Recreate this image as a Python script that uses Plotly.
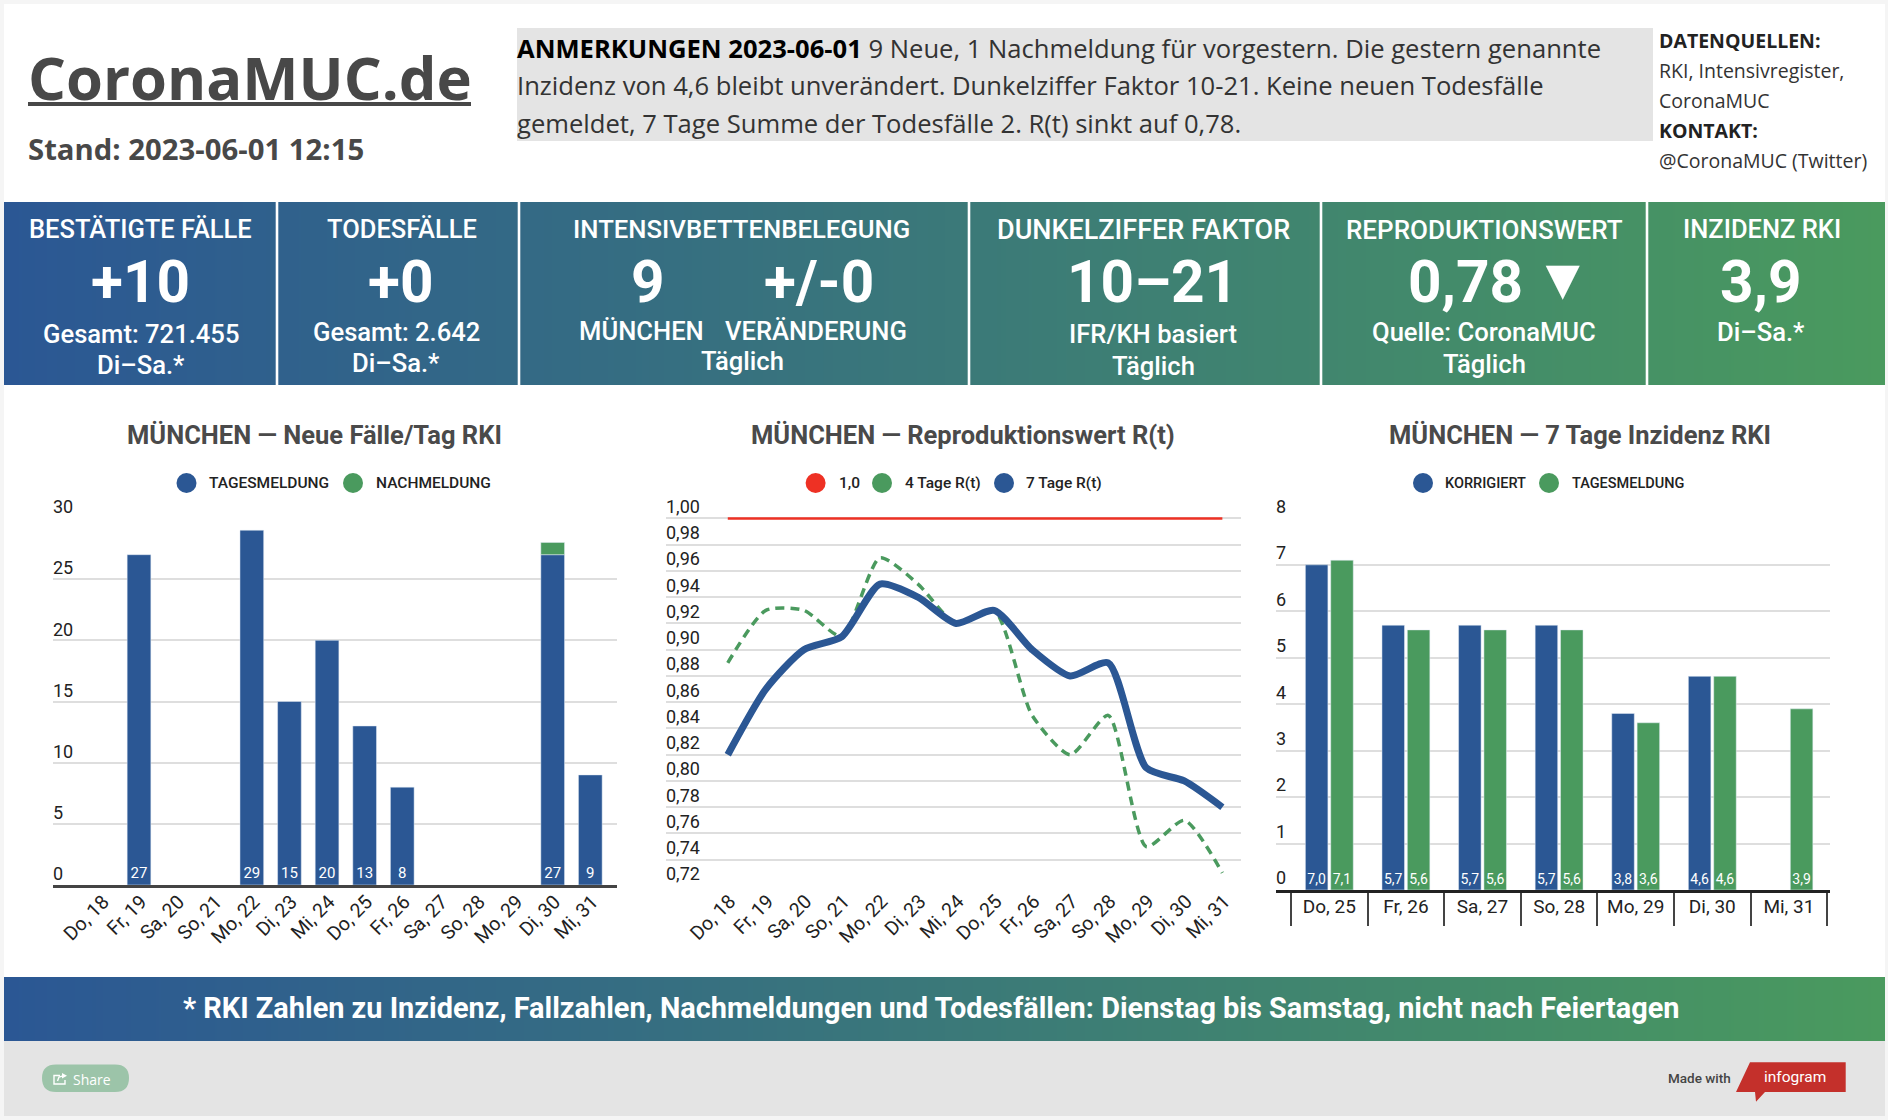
import plotly.graph_objects as go

# ---------------- data ----------------
days14 = ["Do, 18", "Fr, 19", "Sa, 20", "So, 21", "Mo, 22", "Di, 23", "Mi, 24",
          "Do, 25", "Fr, 26", "Sa, 27", "So, 28", "Mo, 29", "Di, 30", "Mi, 31"]
tagesmeldung = [None, 27, None, None, 29, 15, 20, 13, 8, None, None, None, 27, 9]
nachmeldung = [None, None, None, None, None, None, None, None, None, None, None, None, 1, None]
rt_one = [1.0] * 14
rt_4 = [0.89, 0.93, 0.93, 0.91, 0.97, 0.95, 0.92, 0.93, 0.85, 0.82, 0.85, 0.75, 0.77, 0.73]
rt_7 = [0.82, 0.87, 0.90, 0.91, 0.95, 0.94, 0.92, 0.93, 0.90, 0.88, 0.89, 0.81, 0.80, 0.78]
days7 = ["Do, 25", "Fr, 26", "Sa, 27", "So, 28", "Mo, 29", "Di, 30", "Mi, 31"]
inz_korr = [7.0, 5.7, 5.7, 5.7, 3.8, 4.6, None]
inz_tag = [7.1, 5.6, 5.6, 5.6, 3.6, 4.6, 3.9]
y1_ticks = [0, 5, 10, 15, 20, 25, 30]
y2_ticks = [0.72, 0.74, 0.76, 0.78, 0.80, 0.82, 0.84, 0.86, 0.88, 0.90, 0.92, 0.94, 0.96, 0.98, 1.00]
y3_ticks = [0, 1, 2, 3, 4, 5, 6, 7, 8]

# ---------------- helpers ----------------
W, H = 1888, 1120
BLUE, GREEN, RED = "#2b5794", "#4a9a5e", "#ee3124"
GRID = "#dedede"
ROBOTO = "Roboto"
OPEN = "Open Sans"
def px(x): return x / W
def py(y): return 1 - y / H

ann, shp = [], []
def T(text, x, y, size, color="#ffffff", family=ROBOTO, weight=None, anchor="center"):
    f = dict(size=size, color=color, family=family)
    if weight: f["weight"] = weight
    ann.append(dict(text=text, x=px(x), y=py(y), xref="paper", yref="paper", showarrow=False,
                    xanchor=anchor, yanchor="middle", font=f, align=anchor, borderpad=0))
def R(x0, y0, x1, y1, color, layer="below"):
    shp.append(dict(type="rect", xref="paper", yref="paper", x0=px(x0), x1=px(x1), y0=py(y0), y1=py(y1),
                    fillcolor=color, line=dict(width=0), layer=layer))
def C(cx, cy, d, color):
    shp.append(dict(type="circle", xref="paper", yref="paper", x0=px(cx - d/2), x1=px(cx + d/2),
                    y0=py(cy + d/2), y1=py(cy - d/2), fillcolor=color, line=dict(width=0), layer="above"))
def P(points, fill=None, stroke=None, width=0, closed=True):
    path = "M" + " L".join(f"{px(a)},{py(b)}" for a, b in points) + (" Z" if closed else "")
    shp.append(dict(type="path", xref="paper", yref="paper", layer="above", path=path,
                    fillcolor=fill if fill else "rgba(0,0,0,0)",
                    line=dict(width=width, color=stroke) if stroke else dict(width=0)))

fig = go.Figure()

# ---------------- page furniture ----------------
R(4, 4, 1885, 1041, "#ffffff")
R(4, 1041, 1885, 1116, "#e4e4e4")
R(517, 28, 1653, 141, "#e4e4e4")

T("CoronaMUC.de", 26.5, 77, 59.7, "#484848", OPEN, 700, "left")
R(28, 102, 471, 106, "#484848")
T("Stand: 2023-06-01 12:15", 26.5, 149, 29.3, "#484848", OPEN, 700, "left")

LX = 515.5
T('<b><span style="color:#000">ANMERKUNGEN 2023-06-01</span></b> 9 Neue, 1 Nachmeldung für vorgestern. Die gestern genannte',
  LX, 49, 25.6, "#333333", OPEN, None, "left")
T("Inzidenz von 4,6 bleibt unverändert. Dunkelziffer Faktor 10-21. Keine neuen Todesfälle", LX, 85.5, 25.6, "#333333", OPEN, None, "left")
T("gemeldet, 7 Tage Summe der Todesfälle 2. R(t) sinkt auf 0,78.", LX, 123.5, 25.6, "#333333", OPEN, None, "left")

SX = 1657.5
T("DATENQUELLEN:", SX, 40.5, 19.5, "#222222", OPEN, 700, "left")
T("RKI, Intensivregister,", SX, 70.5, 19.5, "#333333", OPEN, None, "left")
T("CoronaMUC", SX, 100.5, 19.5, "#333333", OPEN, None, "left")
T("KONTAKT:", SX, 130.5, 19.5, "#222222", OPEN, 700, "left")
T("@CoronaMUC (Twitter)", SX, 160.5, 19.5, "#333333", OPEN, None, "left")

# stat panels
for x in (277, 519, 969, 1321, 1647):
    R(x - 1.3, 202, x + 1.3, 385, "#ffffff", "above")
PT, PB, PS = 25.5, 25.6, 58.5
for txt, x, y, s, w in [
    ("BESTÄTIGTE FÄLLE", 140, 229, PT, 500), ("+10", 140, 282, PS, 700),
    ("Gesamt: 721.455", 141, 334, PB, 500), ("Di–Sa.*", 141, 365, PB, 500),
    ("TODESFÄLLE", 402, 229, PT, 500), ("+0", 400, 282, PS, 700),
    ("Gesamt: 2.642", 396, 332, PB, 500), ("Di–Sa.*", 396, 363, PB, 500),
    ("INTENSIVBETTENBELEGUNG", 741.5, 229, 25.7, 500), ("9", 647.5, 282, PS, 700),
    ("+/-0", 819, 282, PS, 700), ("MÜNCHEN", 641, 331, PB, 500),
    ("VERÄNDERUNG", 815.5, 331, PB, 500), ("Täglich", 742, 361, PB, 500),
    ("DUNKELZIFFER FAKTOR", 1143, 230, 27, 500), ("10–21", 1152, 282, PS, 700),
    ("IFR/KH basiert", 1153, 334, PB, 500), ("Täglich", 1153, 366, PB, 500),
    ("REPRODUKTIONSWERT", 1484, 230, 26, 500), ("0,78", 1465, 282, PS, 700), ("▼", 1562, 279, 58, None),
    ("Quelle: CoronaMUC", 1484, 332, PB, 500), ("Täglich", 1484, 364, PB, 500),
    ("INZIDENZ RKI", 1762, 229, PT, 500), ("3,9", 1761, 282, PS, 700),
    ("Di–Sa.*", 1761, 332, PB, 500)]:
    T(txt, x, y, s, "#ffffff", ROBOTO, w)

# banner + footer
T("* RKI Zahlen zu Inzidenz, Fallzahlen, Nachmeldungen und Todesfällen: Dienstag bis Samstag, nicht nach Feiertagen",
  931, 1008, 28.9, "#ffffff", ROBOTO, 700)
shp.append(dict(type="path", xref="paper", yref="paper", layer="below", line=dict(width=0), fillcolor="#9cc4a9",
                path=f"M{px(56)},{py(1064.5)} L{px(115)},{py(1064.5)} Q{px(129)},{py(1064.5)} {px(129)},{py(1078)} "
                     f"Q{px(129)},{py(1092)} {px(115)},{py(1092)} L{px(56)},{py(1092)} "
                     f"Q{px(42)},{py(1092)} {px(42)},{py(1078)} Q{px(42)},{py(1064.5)} {px(56)},{py(1064.5)} Z"))
P([(60, 1075.5), (54, 1075.5), (54, 1084), (65, 1084), (65, 1080)], stroke="#ffffff", width=1.4, closed=False)
P([(57.5, 1081), (59, 1077), (63, 1075.8)], stroke="#ffffff", width=1.4, closed=False)
P([(62, 1073), (67, 1075.8), (62, 1078.6)], fill="#ffffff")
T("Share", 91.5, 1079, 14, "#ffffff", OPEN, None)
T("Made with", 1699, 1078, 13.5, "#444444", ROBOTO, 500)
P([(1750, 1062.3), (1845.7, 1062.3), (1845.7, 1092), (1765, 1092), (1756, 1101.7), (1755, 1092), (1736, 1092)], fill="#c4302b")
T("infogram", 1795, 1077, 15.5, "#ffffff", ROBOTO, None)

# gradients: two colour stops interpolated by the heatmap
GRAD = [[0, BLUE], [1, GREEN]]
for i, (z, yy) in enumerate([([[0, 1], [0, 1]], (202, 385)), ([[0, 1], [0, 1]], (977, 1041))]):
    n = 4 + i
    fig.add_trace(go.Heatmap(z=z, x=[0, 1], y=[0, 1], colorscale=GRAD, zmin=0, zmax=1, zsmooth="best",
                             showscale=False, hoverinfo="skip", xaxis=f"x{n}", yaxis=f"y{n}"))
    fig.layout[f"xaxis{n}"] = dict(domain=[px(4), px(1885)], range=[0, 1], visible=False, anchor=f"y{n}", automargin=False)
    fig.layout[f"yaxis{n}"] = dict(domain=[py(yy[1]), py(yy[0])], range=[0, 1], visible=False, anchor=f"x{n}", automargin=False)

# ---------------- chart 1 ----------------
fig.add_trace(go.Bar(x=days14, y=tagesmeldung, name="TAGESMELDUNG", marker_color=BLUE, width=0.63, offset=-0.315,
                     text=[("" if v is None else str(v)) for v in tagesmeldung], textposition="inside",
                     insidetextanchor="start", textangle=0, constraintext="none",
                     insidetextfont=dict(color="#ffffff", size=15, family=ROBOTO),
                     xaxis="x", yaxis="y"))
fig.add_trace(go.Bar(x=days14, y=nachmeldung, base=tagesmeldung, name="NACHMELDUNG", marker_color=GREEN, width=0.63, offset=-0.315,
                     xaxis="x", yaxis="y"))

# ---------------- chart 2 ----------------
fig.add_trace(go.Scatter(x=days14, y=rt_4, name="4 Tage R(t)", mode="lines", xaxis="x2", yaxis="y2",
                         line=dict(color=GREEN, width=3.5, shape="spline", smoothing=0.65, dash="9px,6px")))
fig.add_trace(go.Scatter(x=days14, y=rt_7, name="7 Tage R(t)", mode="lines", xaxis="x2", yaxis="y2",
                         line=dict(color=BLUE, width=7, shape="spline", smoothing=0.65)))
fig.add_trace(go.Scatter(x=days14, y=rt_one, name="1,0", mode="lines", xaxis="x2", yaxis="y2",
                         line=dict(color=RED, width=2.5)))

# ---------------- chart 3 ----------------
lab = dict(textposition="inside", insidetextanchor="start", textangle=0, constraintext="none",
           insidetextfont=dict(color="#ffffff", size=14, family=ROBOTO), texttemplate="%{y:.1f}")
fig.add_trace(go.Bar(x=days7, y=inz_korr, name="KORRIGIERT", marker_color=BLUE, width=0.294, offset=-0.3125,
                     xaxis="x3", yaxis="y3", **lab))
fig.add_trace(go.Bar(x=days7, y=inz_tag, name="TAGESMELDUNG", marker_color=GREEN, width=0.294, offset=0.0185,
                     xaxis="x3", yaxis="y3", **lab))

# ---------------- chart titles + legends ----------------
T("MÜNCHEN — Neue Fälle/Tag RKI", 314, 435, 25.5, "#4a4a4a", ROBOTO, 700)
T("MÜNCHEN — Reproduktionswert R(t)", 963, 435, 25.5, "#4a4a4a", ROBOTO, 700)
T("MÜNCHEN — 7 Tage Inzidenz RKI", 1580, 435, 25.5, "#4a4a4a", ROBOTO, 700)
for cx, col, txt, tx, ls in [(186.5, BLUE, "TAGESMELDUNG", 208, 15.5), (353, GREEN, "NACHMELDUNG", 374.5, 15.5),
                             (815.6, RED, "1,0", 837.5, 15.5), (882, GREEN, "4 Tage R(t)", 904, 15.5), (1004, BLUE, "7 Tage R(t)", 1025, 15.5),
                             (1423, BLUE, "KORRIGIERT", 1444, 14.5), (1549, GREEN, "TAGESMELDUNG", 1570.6, 14.5)]:
    C(cx, 483, 20, col)
    T(txt, tx, 483, ls, "#222222", ROBOTO, 500, "left")

# ---------------- axes ----------------
def yaxis(dom, rng, ticks, left, fmt=None, shift=-12):
    d = dict(domain=dom, range=rng, tickmode="array", tickvals=ticks, showgrid=True, gridcolor=GRID, gridwidth=1.5,
             zeroline=False, showline=False, ticks="", side="right", anchor="free", position=px(left), automargin=False,
             ticklabelposition="outside", ticklabelshift=shift, ticklabelstandoff=-1,
             tickfont=dict(family=ROBOTO, size=18, color="#222222"))
    if fmt: d["tickformat"] = fmt
    return d
XF = dict(family=ROBOTO, size=19.5, color="#222222")
fig.update_layout(
    width=W, height=H, autosize=False, margin=dict(l=0, r=0, t=0, b=0, pad=0),
    paper_bgcolor="#f5f5f5", plot_bgcolor="rgba(0,0,0,0)", showlegend=False, barmode="overlay",
    separators=",.", annotations=ann, shapes=shp,
    xaxis=dict(domain=[px(53), px(617)], range=[-1.287, 13.71], type="category", categoryorder="array", categoryarray=days14,
               tickangle=-45, tickfont=XF, showgrid=False, zeroline=False, showline=True, linecolor="#444444", automargin=False,
               linewidth=2.5, ticks="", tickmode="array", tickvals=days14, ticktext=days14, anchor="y",
               ticklabelstandoff=-5, ticklabelshift=2),
    yaxis=yaxis([py(885), py(518)], [0, 30], y1_ticks, 53, shift=-11),
    xaxis2=dict(domain=[px(666), px(1241)], range=[-1.624, 13.49], type="category", categoryorder="array", categoryarray=days14,
                tickangle=-45, tickfont=XF, showgrid=False, zeroline=False, showline=False, ticks="", automargin=False,
                tickmode="array", tickvals=days14, ticktext=days14, anchor="y2", ticklabelstandoff=-1, ticklabelshift=2),
    yaxis2=yaxis([py(886), py(514.5)], [0.72, 1.003], y2_ticks, 666, ".2f"),
    xaxis3=dict(domain=[px(1276), px(1829.5)], range=[-0.696, 6.53], type="category", categoryorder="array", categoryarray=days7,
                tickfont=dict(family=ROBOTO, size=19, color="#222222"), showgrid=False, zeroline=False, showline=True, automargin=False,
                linecolor="#222222", linewidth=2.5, ticks="outside", ticklen=33, tickwidth=1.5, tickcolor="#444444",
                tickson="boundaries", anchor="y3", ticklabelstandoff=-3),
    yaxis3=yaxis([py(890), py(518.4)], [0, 8], y3_ticks, 1276),
)

fig.write_html("out.html", config=dict(displayModeBar=False),
               post_script="document.body.style.margin='0';document.body.style.overflow='hidden';")
